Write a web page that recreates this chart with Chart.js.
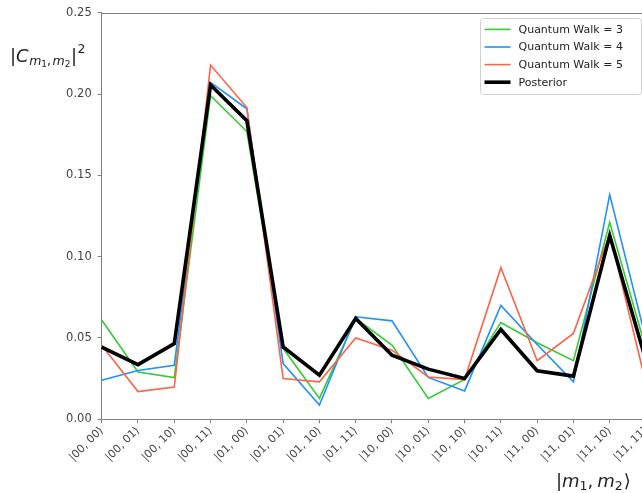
<!DOCTYPE html>
<html>
<head>
<meta charset="utf-8">
<script src="https://cdn.jsdelivr.net/npm/chart.js@4/dist/chart.umd.min.js"></script>
<style>
  html, body { margin: 0; padding: 0; background: #fff; overflow: hidden; }
  #wrap { position: absolute; left: 0; top: 0; }
</style>
</head>
<body>
<div id="wrap"><canvas id="chart" width="660" height="493"></canvas></div>
<script>
// basis states on the x axis
const states = ["|00, 00⟩", "|00, 01⟩", "|00, 10⟩", "|00, 11⟩", "|01, 00⟩", "|01, 01⟩", "|01, 10⟩", "|01, 11⟩",
                "|10, 00⟩", "|10, 01⟩", "|10, 10⟩", "|10, 11⟩", "|11, 00⟩", "|11, 01⟩", "|11, 10⟩", "|11, 11⟩"];

// |C|^2 per state
const walk3 = [0.061, 0.029, 0.0256, 0.199, 0.177, 0.0436, 0.0128, 0.062, 0.0456, 0.0128, 0.0245, 0.0595, 0.047, 0.036, 0.1212, 0.043];
const walk4 = [0.024, 0.030, 0.0332, 0.2072, 0.191, 0.0342, 0.0087, 0.063, 0.0605, 0.0257, 0.0174, 0.070, 0.046, 0.023, 0.1382, 0.049];
const walk5 = [0.0455, 0.017, 0.0198, 0.2179, 0.1918, 0.025, 0.023, 0.050, 0.0425, 0.026, 0.0244, 0.0932, 0.036, 0.0528, 0.114, 0.022];
const posterior = [0.0444, 0.0336, 0.0465, 0.2056, 0.1837, 0.0444, 0.0271, 0.062, 0.0394, 0.0308, 0.025, 0.0552, 0.0298, 0.0265, 0.113, 0.036];

const yTicks = [0, 0.05, 0.10, 0.15, 0.20, 0.25];

const FONT = '"DejaVu Sans", sans-serif';
const SPINE = '#7f7f7f';

// draws text pieces one after the other (sub/superscripts)
function drawRich(ctx, x, y, parts) {
    ctx.textAlign = 'left';
    ctx.textBaseline = 'alphabetic';
    parts.forEach(p => {
        ctx.font = p.f;
        ctx.fillText(p.t, x, y + (p.dy || 0));
        x += ctx.measureText(p.t).width + (p.gap || 0);
    });
}

const extras = {
    id: 'extras',
    afterDraw(chart) {
        const ctx = chart.ctx;
        const a = chart.chartArea;
        ctx.save();

        // top spine
        ctx.strokeStyle = SPINE;
        ctx.lineWidth = 1;
        ctx.beginPath();
        ctx.moveTo(a.left, Math.round(a.top) + 0.5);
        ctx.lineTo(a.right, Math.round(a.top) + 0.5);
        ctx.stroke();

        // axis titles
        ctx.fillStyle = '#222';
        const big = '18px ' + FONT, bigI = 'italic 18px ' + FONT;
        const mid = '12.5px ' + FONT, midI = 'italic 12.5px ' + FONT;
        const small = '9px ' + FONT;
        drawRich(ctx, 10, 62, [
            { t: '|', f: big },
            { t: 'C', f: bigI, gap: 0.5 },
            { t: 'm', f: midI, dy: 3 },
            { t: '1', f: small, dy: 5 },
            { t: ',', f: mid, dy: 3, gap: 1.5 },
            { t: 'm', f: midI, dy: 3 },
            { t: '2', f: small, dy: 5, gap: 0.5 },
            { t: '|', f: big, gap: 0.5 },
            { t: '2', f: mid, dy: -9 }
        ]);
        drawRich(ctx, 556, 487, [
            { t: '|', f: big },
            { t: 'm', f: bigI },
            { t: '1', f: mid, dy: 3 },
            { t: ',', f: big, gap: 4 },
            { t: 'm', f: bigI },
            { t: '2', f: mid, dy: 3, gap: 1 },
            { t: '⟩', f: big }
        ]);

        // legend inside the axes, upper right
        const ds = chart.data.datasets;
        const bw = 161, bh = 76;
        const bx = a.right - 5.5 - bw, by = a.top + 5.5;
        ctx.fillStyle = 'rgba(255,255,255,0.8)';
        ctx.strokeStyle = '#d0d0d0';
        ctx.lineWidth = 1;
        ctx.beginPath();
        ctx.roundRect(Math.round(bx) + 0.5, Math.round(by) + 0.5, bw, bh, 3);
        ctx.fill();
        ctx.stroke();
        ctx.font = '11px ' + FONT;
        ctx.textBaseline = 'middle';
        ds.forEach((d, i) => {
            const ry = by + 11 + i * 17.6;
            ctx.strokeStyle = d.borderColor;
            ctx.lineWidth = d.borderWidth;
            ctx.beginPath();
            ctx.moveTo(bx + 5, ry);
            ctx.lineTo(bx + 31, ry);
            ctx.stroke();
            ctx.fillStyle = '#222';
            ctx.fillText(d.label, bx + 39, ry + 0.5);
        });
        ctx.restore();
    }
};

new Chart(document.getElementById('chart'), {
    type: 'line',
    data: {
        labels: states,
        datasets: [
            { label: 'Quantum Walk = 3', data: walk3, borderColor: '#33cc33', borderWidth: 1.6, order: 4 },
            { label: 'Quantum Walk = 4', data: walk4, borderColor: '#1e90ff', borderWidth: 1.6, order: 3 },
            { label: 'Quantum Walk = 5', data: walk5, borderColor: '#ff6347', borderWidth: 1.6, order: 2 },
            { label: 'Posterior', data: posterior, borderColor: '#000000', borderWidth: 3.6, order: 1 }
        ]
    },
    options: {
        responsive: false,
        devicePixelRatio: 1,
        animation: false,
        layout: { padding: { left: 0, top: 12.7, right: 14, bottom: 0 } },
        elements: {
            point: { radius: 0, hoverRadius: 0 },
            line: { tension: 0, fill: false, borderJoinStyle: 'miter', borderCapStyle: 'butt' }
        },
        plugins: {
            legend: { display: false },
            tooltip: { enabled: false }
        },
        scales: {
            x: {
                offset: false,
                grid: { display: true, drawOnChartArea: false, drawTicks: true, tickLength: 4, color: SPINE },
                border: { color: SPINE, width: 1 },
                ticks: {
                    autoSkip: false, maxRotation: 45, minRotation: 45, padding: 1,
                    color: '#444', font: { family: FONT, size: 11 }
                },
                afterFit: (s) => { s.height = 73.8; }
            },
            y: {
                min: 0,
                max: 0.25,
                afterBuildTicks: (s) => { s.ticks = yTicks.map(v => ({ value: v })); },
                grid: { display: true, drawOnChartArea: false, drawTicks: true, tickLength: 4, color: SPINE },
                border: { color: SPINE, width: 1 },
                ticks: {
                    padding: 6,
                    color: '#444', font: { family: FONT, size: 11.5 },
                    callback: (v) => v.toFixed(2)
                },
                afterFit: (s) => { s.width = 101.7; }
            }
        }
    },
    plugins: [extras]
});
</script>
</body>
</html>
